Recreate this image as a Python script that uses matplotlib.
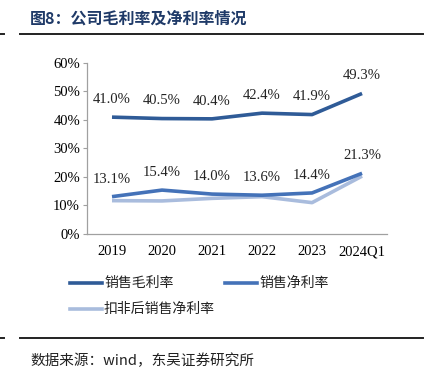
import matplotlib.pyplot as plt
from matplotlib.lines import Line2D

plt.rcParams['font.family'] = ['Liberation Serif', 'Noto Sans CJK SC']

years = ['2019', '2020', '2021', '2022', '2023', '2024Q1']
gross = [41.0, 40.5, 40.4, 42.4, 41.9, 49.3]
net = [13.1, 15.4, 14.0, 13.6, 14.4, 21.3]
net_deduct = [11.7, 11.6, 12.5, 13.1, 11.0, 20.3]
yticks = [0, 10, 20, 30, 40, 50, 60]

c_gross = '#2F5B97'
c_net = '#4472B8'
c_ded = '#A9BCDD'

fig = plt.figure(figsize=(4.4, 3.69), dpi=100)
ax = fig.add_axes([0.1977, 0.3659, 0.682, 0.4634])

x = list(range(len(years)))
ax.plot(x, net_deduct, color=c_ded, lw=2.6, solid_capstyle='butt')
ax.plot(x, net, color=c_net, lw=2.6, solid_capstyle='butt')
ax.plot(x, gross, color=c_gross, lw=2.6, solid_capstyle='butt')

for i in x:
    ax.annotate('%.1f%%' % gross[i], (i, gross[i]), xytext=(0, 8), textcoords='offset points',
                ha='center', va='bottom', fontsize=10.5, color='#222222')
    ax.annotate('%.1f%%' % net[i], (i, net[i]), xytext=(0, 8), textcoords='offset points',
                ha='center', va='bottom', fontsize=10.5, color='#222222')

ax.set_xlim(-0.5, len(years) - 0.5)
ax.set_ylim(0, 60)
ax.set_yticks(yticks)
ax.set_yticklabels(['%d%%' % v for v in yticks], fontsize=10.5)
ax.set_xticks(x)
ax.set_xticklabels(years, fontsize=10.5)
ax.tick_params(axis='x', length=0, pad=8)
ax.tick_params(axis='y', length=3, color='#A0A0A0', pad=2)
for s in ['top', 'right']:
    ax.spines[s].set_visible(False)
for s in ['left', 'bottom']:
    ax.spines[s].set_color('#A0A0A0')
    ax.spines[s].set_linewidth(0.9)

cjk = ['Noto Sans CJK SC']
# legend drawn by hand in figure coords
leg = [(c_gross, '销售毛利率', 70, 283), (c_net, '销售净利率', 225, 283), (c_ded, '扣非后销售净利率', 70, 309)]
for col, lab, px, py in leg:
    fig.add_artist(Line2D([px / 440, (px + 32) / 440], [1 - py / 369] * 2, color=col, lw=2.6))
    fig.text((px + 34) / 440, 1 - py / 369, lab, fontsize=10, family=cjk, va='center', ha='left',
             color='#222222')

fig.text(30 / 440, 1 - 19 / 369, '图8：公司毛利率及净利率情况', fontsize=11.5, family=cjk,
         fontweight='bold', color='#1F3A68', va='center', ha='left')
fig.add_artist(Line2D([20 / 440, 423 / 440], [1 - 34 / 369] * 2, color='#222222', lw=1.4))
fig.add_artist(Line2D([0, 4 / 440], [1 - 34 / 369] * 2, color='#222222', lw=1.4))
fig.add_artist(Line2D([20 / 440, 423 / 440], [1 - 338 / 369] * 2, color='#222222', lw=1.4))
fig.add_artist(Line2D([0, 4 / 440], [1 - 338 / 369] * 2, color='#222222', lw=1.4))
fig.text(30 / 440, 1 - 361 / 369, '数据来源：wind，东吴证券研究所', fontsize=10.5, family=cjk,
         va='center', ha='left', color='#222222')

fig.savefig('out.png', dpi=100)
